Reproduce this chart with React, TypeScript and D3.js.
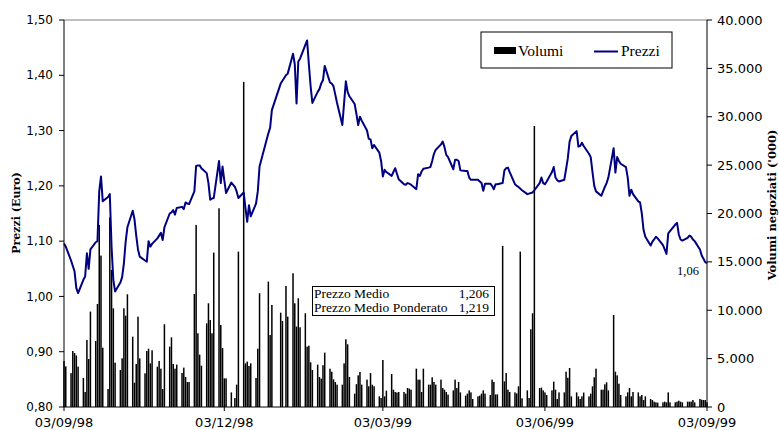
import React from "react";
import * as d3 from "d3";

// ---------- DATA ----------
const startDate = new Date(1998, 8, 3);
const endDate = new Date(1999, 8, 3);

// Volumes ('000) per trading weekday (0 = market closed)
const volumes: number[] = [
  4750, 4200,
  3500, 5790, 5580, 5330, 4170,
  3000, 1550, 6930, 4960, 9860,
  6820, 10650, 18820, 15650, 6130,
  1860, 19600, 14170, 10200, 4580,
  3830, 5030, 10200, 9440, 11650,
  7270, 2510, 4450, 9340, 5030,
  3480, 5790, 6030, 4510, 5860,
  4170, 4760, 3960, 1860, 8550,
  6240, 7200, 4450, 3960, 4380,
  3510, 4070, 3100, 2580, 2580,
  11680, 18820, 7620, 5410, 4270,
  8650, 10720, 8990, 7620, 15960,
  20540, 8480, 6100, 2960, 2960,
  1510, 0, 930, 2310, 16060,
  33600, 4510, 4690, 4240, 4510,
  3000, 6030, 11760, 0, 0,
  12960, 7440, 10550, 0, 0,
  9750, 8890, 0, 12510, 9340,
  13820, 10720, 8310, 11240, 8240,
  9690, 6240, 6340, 4620, 3830,
  4380, 3100, 2930, 4320, 5620,
  3960, 3650, 2860, 2580, 2310,
  2310, 4510, 7000, 6480, 3100,
  1380, 2360, 3270, 3620, 2310,
  2830, 2140, 3510, 2300, 2140,
  1100, 930, 4860, 1100, 1690,
  3410, 1790, 1550, 1490, 1550,
  1550, 1380, 1960, 1900, 1790,
  3960, 2830, 2830, 1550, 3960,
  2310, 2310, 3070, 2590, 2310,
  2830, 1960, 1790, 1550, 1280,
  1720, 2830, 1960, 2590, 1510,
  1170, 1380, 1720, 1510, 830,
  1100, 1170, 1380, 1720, 1380,
  1240, 2830, 2590, 1300, 1300,
  16650, 2650, 3510, 1790, 1550,
  1510, 1400, 2140, 16060, 900,
  1720, 930, 8030, 9690, 29050,
  1960, 2000, 1720, 1510, 1240,
  1720, 2620, 1790, 830, 1510,
  1510, 3650, 3020, 4030, 1100,
  1510, 1100, 830, 1100, 1490,
  1100, 1380, 2140, 3070, 3960,
  1790, 1790, 2340, 2550, 1720,
  9510, 3650, 3270, 2410, 1240,
  1100, 1510, 1960, 1100, 1550,
  1510, 1100, 1240, 720, 1100,
  830, 720, 550, 480, 450,
  480, 550, 480, 1510, 480,
  480, 550, 650, 550, 480,
  550, 550, 550, 720, 480,
  830, 750, 720, 720, 480,
];

// Prices (Euro) per trading weekday (null = market closed)
const prices: (number | null)[] = [
  1.096, 1.09,
  1.065, 1.055, 1.045, 1.015, 1.006,
  1.03, 1.036, 1.078, 1.05, 1.085,
  1.098, 1.10, 1.19, 1.217, 1.172,
  1.18, 1.185, 1.09, 1.03, 1.009,
  1.025, 1.035, 1.06, 1.099, 1.125,
  1.155, 1.14, 1.11, 1.085, 1.072,
  1.065, 1.063, 1.10, 1.09, 1.095,
  1.105, 1.11, 1.115, 1.102, 1.125,
  1.15, 1.152, 1.156, 1.148, 1.16,
  1.162, 1.158, 1.17, 1.168, 1.167,
  1.19, 1.236, 1.237, 1.237, 1.232,
  1.223, 1.205, 1.175, 1.177, 1.178,
  1.245, 1.205, 1.235, 1.21, 1.187,
  1.206, null, 1.198, 1.19, 1.178,
  1.188, 1.16, 1.135, 1.165, 1.145,
  1.168, 1.19, 1.235, null, null,
  1.295, 1.305, 1.337, null, null,
  1.385, 1.39, null, 1.40, 1.403,
  1.439, 1.42, 1.349, 1.425, 1.43,
  1.455, 1.463, 1.42, 1.38, 1.35,
  1.37, 1.375, 1.385, 1.391, 1.417,
  1.387, 1.385, 1.38, 1.365, 1.35,
  1.31, 1.35, 1.389, 1.37, 1.362,
  1.348, 1.33, 1.31, 1.325, 1.318,
  1.30, 1.285, 1.284, 1.268, 1.274,
  1.26, 1.245, 1.217, 1.229, 1.225,
  1.218, 1.225, 1.232, 1.222, 1.212,
  1.203, 1.202, 1.205, 1.204, 1.202,
  1.194, 1.221, 1.218, 1.226, 1.231,
  1.233, 1.234, 1.245, 1.258, 1.265,
  1.275, 1.28, 1.27, 1.256, 1.252,
  1.23, 1.247, 1.247, 1.245, 1.228,
  1.227, 1.227, 1.215, 1.211, 1.211,
  1.211, 1.208, 1.205, 1.191, 1.204,
  1.204, 1.20, 1.194, 1.203, 1.203,
  1.205, 1.228, 1.232, 1.233, 1.225,
  1.203, 1.20, 1.198, 1.195, 1.192,
  1.185, 1.186, 1.187, 1.188, 1.192,
  1.205, 1.215, 1.205, 1.203, 1.208,
  1.225, 1.234, 1.215, 1.21, 1.208,
  1.211, 1.23, 1.25, 1.28, 1.29,
  1.299, 1.271, 1.272, 1.278, 1.272,
  1.258, 1.252, 1.225, 1.20, 1.19,
  1.182, 1.19, 1.198, 1.205, 1.215,
  1.268, 1.224, 1.252, 1.245, 1.24,
  1.234, 1.215, 1.182, 1.193, 1.185,
  1.172, 1.17, 1.15, 1.12, 1.108,
  1.092, 1.099, 1.103, 1.108, 1.105,
  1.093, 1.085, 1.077, 1.114, 1.118,
  1.13, 1.133, 1.112, 1.103, 1.101,
  1.106, 1.11, 1.108, 1.103, 1.10,
  1.085, 1.074, 1.068, 1.062, 1.06,
];

const xTickDates = [
  new Date(1998, 8, 3),
  new Date(1998, 11, 3),
  new Date(1999, 2, 3),
  new Date(1999, 5, 3),
  new Date(1999, 8, 3),
];
const priceTicks = [0.8, 0.9, 1.0, 1.1, 1.2, 1.3, 1.4, 1.5];
const volumeTicks = [0, 5000, 10000, 15000, 20000, 25000, 30000, 35000, 40000];
const statsLabels = ["Prezzo Medio", "Prezzo Medio Ponderato"];
const statsValues = ["1,206", "1,219"];
const lastPriceLabel = "1,06";

// trading weekdays (categories)
const tradingDays: Date[] = [];
for (let d = new Date(startDate); d <= endDate; d.setDate(d.getDate() + 1)) {
  const wd = d.getDay();
  if (wd !== 0 && wd !== 6) tradingDays.push(new Date(d));
}

// ---------- LAYOUT ----------
const W = 779;
const H = 430;
const L = 64;
const R = 707;
const T = 20;
const B = 407;

const itLocale = d3.formatLocale({
  decimal: ",",
  thousands: ".",
  grouping: [3],
  currency: ["€", ""],
});
const fmtPrice = itLocale.format(".2f");
const fmtVol = itLocale.format(",.0f");
const fmtDate = d3.timeFormat("%d/%m/%y");

export default function App() {
  const x = d3.scaleTime().domain([startDate, endDate]).range([L, R]);
  const yP = d3.scaleLinear().domain([0.8, 1.5]).range([B, T]);
  const yV = d3.scaleLinear().domain([0, 40000]).range([B, T]);

  const n = Math.min(tradingDays.length, volumes.length, prices.length);
  const pts: [number, number][] = [];
  for (let i = 0; i < n; i++) {
    const p = prices[i];
    if (p != null) pts.push([x(tradingDays[i]), yP(p)]);
  }
  const line = d3.line<[number, number]>().x((d) => d[0]).y((d) => d[1]);
  const lastPt = pts[pts.length - 1];

  const barW = 1.5;
  const tickFont = "'DejaVu Sans', Verdana, sans-serif";
  const textFont = "'Liberation Serif', 'Times New Roman', serif";
  const titleFont = "'DejaVu Serif', serif";

  return (
    <svg
      width={W}
      height={H}
      style={{ position: "absolute", left: 0, top: 0, background: "#fff" }}
    >
      <rect x={0} y={0} width={W} height={H} fill="#fff" />
      {/* top border */}
      <line x1={L} x2={R} y1={T} y2={T} stroke="#808080" strokeWidth={1} />

      {/* bars */}
      <g fill="#000">
        {volumes.slice(0, n).map((v, i) =>
          v > 0 ? (
            <rect
              key={i}
              x={x(tradingDays[i]) - barW / 2}
              y={yV(v)}
              width={barW}
              height={B - yV(v)}
            />
          ) : null
        )}
      </g>

      {/* price line */}
      <path d={line(pts) || ""} fill="none" stroke="#000080" strokeWidth={2} strokeLinejoin="round" />

      {/* axes */}
      <line x1={L} x2={L} y1={T} y2={B} stroke="#000" strokeWidth={1} />
      <line x1={R} x2={R} y1={T} y2={B} stroke="#000" strokeWidth={1} />
      <line x1={L} x2={R} y1={B} y2={B} stroke="#000" strokeWidth={1} />

      {/* left ticks */}
      {priceTicks.map((t) => (
        <g key={t}>
          <line x1={L - 5} x2={L} y1={yP(t)} y2={yP(t)} stroke="#000" />
          <text
            x={L - 11}
            y={yP(t)}
            dy="0.35em"
            textAnchor="end"
            fontFamily={tickFont}
            fontSize={12}
            fill="#000"
          >
            {fmtPrice(t)}
          </text>
        </g>
      ))}

      {/* right ticks */}
      {volumeTicks.map((t) => (
        <g key={t}>
          <line x1={R} x2={R + 5} y1={yV(t)} y2={yV(t)} stroke="#000" />
          <text
            x={R + 10}
            y={yV(t)}
            dy="0.35em"
            textAnchor="start"
            fontFamily={tickFont}
            fontSize={13}
            fill="#000"
          >
            {fmtVol(t)}
          </text>
        </g>
      ))}

      {/* bottom ticks */}
      {xTickDates.map((d, i) => (
        <g key={i}>
          <line x1={x(d)} x2={x(d)} y1={B} y2={B + 4} stroke="#000" />
          <text
            x={x(d)}
            y={427}
            textAnchor="middle"
            fontFamily={tickFont}
            fontSize={13}
            fill="#000"
          >
            {fmtDate(d)}
          </text>
        </g>
      ))}

      {/* axis titles */}
      <text
        transform={`translate(20,213) rotate(-90)`}
        textAnchor="middle"
        fontFamily={titleFont}
        fontWeight="bold"
        fontSize={11}
        fill="#000"
      >
        Prezzi (Euro)
      </text>
      <text
        transform={`translate(776,205) rotate(-90)`}
        textAnchor="middle"
        fontFamily={titleFont}
        fontWeight="bold"
        fontSize={11.5}
        fill="#000"
      >
        Volumi negoziati ('000)
      </text>

      {/* legend */}
      <g>
        <rect x={481} y={32} width={191} height={36} fill="#fff" stroke="#000" strokeWidth={1} />
        <rect x={494} y={47} width={22} height={7} fill="#000" />
        <text x={518} y={55.5} fontFamily={textFont} fontSize={15.5} fill="#000">
          Volumi
        </text>
        <line x1={594} x2={618} y1={51.5} y2={51.5} stroke="#000080" strokeWidth={2} />
        <text x={621} y={55.5} fontFamily={textFont} fontSize={15.5} fill="#000">
          Prezzi
        </text>
      </g>

      {/* stats box */}
      <g>
        <rect x={312.5} y={286.5} width={182} height={29} fill="#fff" stroke="#000" strokeWidth={1} />
        {statsLabels.map((s, i) => (
          <g key={s}>
            <text x={314} y={298 + i * 14} fontFamily={textFont} fontSize={13.5} fill="#000">
              {s}
            </text>
            <text x={489} y={298 + i * 14} textAnchor="end" fontFamily={textFont} fontSize={13.5} fill="#000">
              {statsValues[i]}
            </text>
          </g>
        ))}
      </g>

      {/* last price label */}
      {lastPt && (
        <text
          x={lastPt[0] - 19}
          y={lastPt[1] + 12}
          textAnchor="middle"
          fontFamily={textFont}
          fontSize={12.5}
          fill="#000"
        >
          {lastPriceLabel}
        </text>
      )}
    </svg>
  );
}
